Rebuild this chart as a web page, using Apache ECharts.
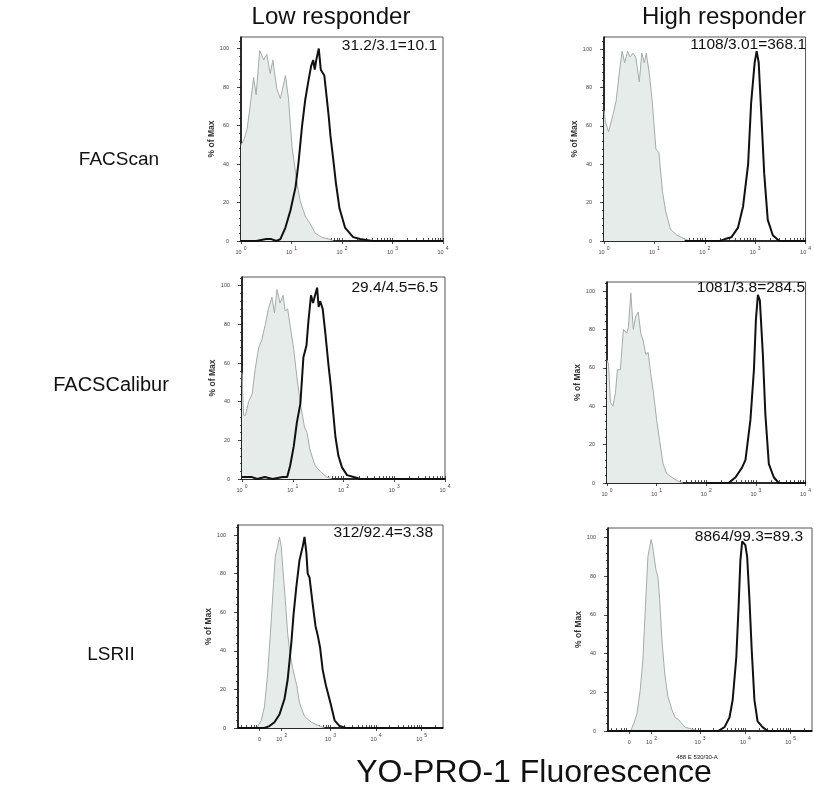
<!DOCTYPE html>
<html><head><meta charset="utf-8">
<script src="https://cdn.jsdelivr.net/npm/echarts@6/dist/echarts.min.js"></script>
<style>html,body{margin:0;padding:0;background:#fff}#c{width:814px;height:791px}</style>
</head><body><div id="c"></div>
<script>
// ---------------- DATA ----------------
const colTitles = ['Low responder', 'High responder'];
const rowLabels = ['FACScan', 'FACSCalibur', 'LSRII'];
const ratioTexts = ['31.2/3.1=10.1', '1108/3.01=368.1', '29.4/4.5=6.5', '1081/3.8=284.5', '312/92.4=3.38', '8864/99.3=89.3'];
const yAxisName = '% of Max';
const xAxisTitle = 'YO-PRO-1 Fluorescence';
const parameterLabel = '488 E 530/30-A';
const yTickLabels = [0, 20, 40, 60, 80, 100];
// top / middle rows: log decade axis (positions in log10 units)
const logTickValues = [0, 1, 2, 3, 4];
const logTickExps = ['0', '1', '2', '3', '4'];
// bottom row: biexponential display axis (positions in display decades)
const biexTickValues = [1.44, 1.93, 3, 4, 5];
const biexTickExps = [null, '2', '3', '4', '5'];
const biexNegTicks = [1.04, 1.16, 1.26, 1.33, 1.38];
const biexLowTicks = [1.58, 1.70, 1.80, 1.87];

// histograms: [x position, % of max]
const grayScanLow = [[0,50],[0.05,52],[0.12,58],[0.18,70],[0.25,85],[0.30,76],[0.37,99],[0.45,94],[0.51,97],[0.58,87],[0.63,94],[0.71,79],[0.78,74],[0.88,86],[0.94,74],[1.01,49],[1.11,30],[1.17,21],[1.27,13],[1.37,9],[1.47,4],[1.60,2],[1.74,1],[1.83,0]];
const blackScanLow = [[0,0],[0.3,0],[0.5,1],[0.6,1],[0.7,0],[0.78,1],[0.88,7],[0.98,16],[1.08,28],[1.14,41],[1.21,60],[1.27,73],[1.34,84],[1.39,91],[1.43,94],[1.46,89],[1.49,94],[1.54,100],[1.58,89],[1.65,86],[1.74,64],[1.77,55],[1.82,44],[1.88,30],[1.95,17],[2.06,7],[2.22,2],[2.36,1],[2.6,0],[4,0]];
const grayScanHigh = [[0,68],[0.03,62],[0.09,57],[0.18,66],[0.24,73],[0.31,89],[0.36,99],[0.41,93],[0.47,99],[0.52,96],[0.57,98],[0.63,96],[0.70,83],[0.75,98],[0.80,93],[0.84,98],[0.90,87],[0.96,72],[1.03,48],[1.09,46],[1.16,26],[1.22,16],[1.32,6],[1.45,3],[1.61,1],[1.71,0]];
const blackScanHigh = [[1.6,0],[2.3,0],[2.40,1],[2.53,2],[2.66,7],[2.76,18],[2.86,40],[2.92,72],[2.99,93],[3.03,99],[3.07,93],[3.12,67],[3.18,35],[3.25,11],[3.35,3],[3.48,0],[4,0]];
const grayCaliburLow = [[0,55],[0.03,33],[0.07,33],[0.13,40],[0.20,44],[0.26,57],[0.33,68],[0.39,72],[0.46,80],[0.52,88],[0.59,94],[0.64,86],[0.69,98],[0.75,91],[0.81,95],[0.85,87],[0.90,88],[0.95,79],[1.02,67],[1.08,53],[1.15,39],[1.23,27],[1.28,24],[1.34,15],[1.44,7],[1.54,4],[1.67,1],[1.77,0]];
const blackCaliburLow = [[0,1],[0.2,1],[0.3,0],[0.45,1],[0.6,0],[0.8,1],[0.89,1],[0.95,7],[1.02,17],[1.08,29],[1.15,39],[1.21,63],[1.27,69],[1.31,82],[1.36,95],[1.40,91],[1.44,95],[1.48,99],[1.51,89],[1.54,92],[1.59,88],[1.64,76],[1.70,60],[1.75,48],[1.84,22],[1.90,12],[1.97,6],[2.07,2],[2.20,1],[2.33,0],[4,0]];
const grayCaliburHigh = [[0,64],[0.03,62],[0.07,42],[0.12,40],[0.17,47],[0.21,59],[0.27,59],[0.33,80],[0.40,78],[0.43,81],[0.48,99],[0.53,80],[0.58,87],[0.63,89],[0.68,78],[0.73,74],[0.78,67],[0.83,68],[0.88,57],[0.93,48],[1.00,33],[1.06,22],[1.13,10],[1.20,5],[1.30,3],[1.43,1],[1.53,0]];
const blackCaliburHigh = [[2.0,0],[2.45,0],[2.49,1],[2.59,3],[2.72,8],[2.79,12],[2.89,33],[2.96,59],[3.00,85],[3.04,98],[3.08,95],[3.14,67],[3.19,36],[3.26,10],[3.36,3],[3.46,0],[4,0]];
const grayLsrLow = [[1.38,0],[1.48,4],[1.55,11],[1.62,28],[1.70,56],[1.75,75],[1.79,89],[1.84,94],[1.88,99],[1.92,94],[1.95,84],[2.01,66],[2.06,49],[2.11,39],[2.17,31],[2.21,30],[2.26,22],[2.32,13],[2.43,6],[2.58,3],[2.76,1],[2.87,0]];
const blackLsrLow = [[0.97,0],[1.55,0],[1.66,1],[1.77,3],[1.88,7],[1.99,15],[2.06,25],[2.14,44],[2.19,59],[2.25,73],[2.32,87],[2.39,94],[2.43,99],[2.47,91],[2.50,80],[2.54,78],[2.60,66],[2.67,53],[2.72,48],[2.77,42],[2.83,30],[2.90,22],[3.00,13],[3.09,4],[3.20,1],[3.34,0],[5.47,0]];
const grayLsrHigh = [[1.47,0],[1.54,4],[1.61,9],[1.68,21],[1.74,37],[1.78,57],[1.82,76],[1.85,90],[1.88,94],[1.92,99],[1.95,96],[1.98,97],[2.03,83],[2.07,80],[2.11,68],[2.16,47],[2.22,30],[2.29,18],[2.38,11],[2.45,7],[2.52,6],[2.67,2],[2.81,1],[2.96,0]];
const blackLsrHigh = [[0.97,0],[3.40,0],[3.54,2],[3.65,7],[3.72,16],[3.80,38],[3.85,64],[3.89,88],[3.93,98],[3.97,99],[4.00,96],[4.04,90],[4.09,68],[4.14,42],[4.20,16],[4.27,5],[4.38,2],[4.49,0],[5.47,0]];

const grayData = [grayScanLow, grayScanHigh, grayCaliburLow, grayCaliburHigh, grayLsrLow, grayLsrHigh];
const blackData = [blackScanLow, blackScanHigh, blackCaliburLow, blackCaliburHigh, blackLsrLow, blackLsrHigh];

// ---------------- LAYOUT ----------------
const layout = [
  {l:241, t:37,  r:443, b:241, yMax:106,   biex:false, tx:437, ty:46},
  {l:604, t:37,  r:808, b:241, yMax:106.4, biex:false, tx:806, ty:45},
  {l:242, t:277, r:445, b:479, yMax:104.5, biex:false, tx:438, ty:288},
  {l:607, t:282, r:807, b:483, yMax:104.7, biex:false, tx:805, ty:288},
  {l:238, t:525, r:443, b:728, yMax:105.2, biex:true,  tx:433, ty:533},
  {l:608, t:528, r:812, b:731, yMax:104.9, biex:true,  tx:803, ty:537}
];
const FONT = '"Liberation Sans", Arial, sans-serif';

// axis tick position helpers
function logMinorTicks() {
  const out = [];
  for (let n = 0; n < 4; n++) for (let k = 1; k <= 9; k++) out.push(n + Math.log10(k));
  out.push(4);
  return out;
}
function biexMinorTicks() {
  const out = biexNegTicks.concat(biexLowTicks);
  for (let k = 1; k <= 9; k++) out.push(1.93 + Math.log10(k) * (3 - 1.93));
  for (let n = 3; n < 5; n++) for (let k = 1; k <= 9; k++) out.push(n + Math.log10(k));
  out.push(5, 5 + Math.log10(2));
  return out;
}
const yMinor = []; for (let v = 0; v <= 104; v += 4) yMinor.push(v);

const grids = [], xAxes = [], yAxes = [], series = [];
layout.forEach((p, i) => {
  grids.push({left:p.l, top:p.t, width:p.r - p.l, height:p.b - p.t, show:true, borderColor:'#555', borderWidth:1, containLabel:false});
  const xMin = p.biex ? 0.97 : 0, xMax = p.biex ? 5.47 : 4;
  const labVals = p.biex ? biexTickValues : logTickValues;
  const labExps = p.biex ? biexTickExps : logTickExps;
  const minor = p.biex ? biexMinorTicks() : logMinorTicks();
  xAxes.push({
    type:'value', gridIndex:i, min:xMin, max:xMax, position:'bottom',
    axisLine:{show:true, onZero:false, lineStyle:{color:'#000', width:1.5}},
    axisTick:{show:true, inside:true, length:3, customValues:minor, lineStyle:{color:'#222', width:0.8}},
    axisLabel:{show:true, customValues:labVals, margin:5, color:'#444',
      formatter:function(v){
        let idx = 0, best = 1e9;
        labVals.forEach((q, j) => { if (Math.abs(q - v) < best) { best = Math.abs(q - v); idx = j; } });
        const e = labExps[idx];
        return e === null ? '{b|0}' : '{b|10}{s|' + e + '}';
      },
      rich:{
        b:{fontSize:5.5, lineHeight:13, color:'#444', fontFamily:FONT},
        s:{fontSize:5, lineHeight:5, verticalAlign:'top', color:'#444', fontFamily:FONT, padding:[0,0,0,2]}
      }},
    splitLine:{show:false}
  });
  xAxes.push({
    type:'value', gridIndex:i, min:xMin, max:xMax, position:'bottom',
    axisLine:{show:false}, axisLabel:{show:false}, splitLine:{show:false},
    axisTick:{show:true, inside:false, length:3, customValues:labVals, lineStyle:{color:'#222', width:0.8}}
  });
  yAxes.push({
    type:'value', gridIndex:i, min:0, max:p.yMax, position:'left',
    axisLine:{show:true, onZero:false, lineStyle:{color:'#000', width:1.5}},
    axisTick:{show:true, inside:false, length:2, customValues:yMinor, lineStyle:{color:'#222', width:0.8}},
    axisLabel:{show:true, customValues:yTickLabels, fontSize:5.5, color:'#444', margin:12, fontFamily:FONT},
    name:yAxisName, nameLocation:'middle', nameGap:22, nameRotate:90,
    nameTextStyle:{fontSize:8.5, fontWeight:'bold', color:'#333', fontFamily:FONT},
    splitLine:{show:false}
  });
  yAxes.push({
    type:'value', gridIndex:i, min:0, max:p.yMax, position:'left',
    axisLine:{show:false}, axisLabel:{show:false}, splitLine:{show:false},
    axisTick:{show:true, inside:false, length:4, customValues:yTickLabels, lineStyle:{color:'#222', width:0.8}}
  });
  series.push({
    type:'line', xAxisIndex:2*i, yAxisIndex:2*i, data:grayData[i], showSymbol:false, symbol:'none',
    lineStyle:{color:'#a3acaa', width:1}, areaStyle:{color:'#e6ecea', opacity:1}, z:2, silent:true
  });
  series.push({
    type:'line', xAxisIndex:2*i, yAxisIndex:2*i, data:blackData[i], showSymbol:false, symbol:'none',
    lineStyle:{color:'#111', width:2}, z:3, silent:true
  });
});

function txt(text, x, y, size, align, extra) {
  return Object.assign({type:'text', z:10, style:{text:text, x:x, y:y, font: size + 'px ' + FONT, fill:'#111',
    align:align, textAlign:align, verticalAlign:'middle', textVerticalAlign:'middle'}}, extra || {});
}
const graphics = [
  txt(colTitles[0], 331, 17, 24, 'center'),
  txt(colTitles[1], 724, 17, 24, 'center'),
  txt(rowLabels[0], 119, 160, 19, 'center'),
  txt(rowLabels[1], 111, 385, 20, 'center'),
  txt(rowLabels[2], 111, 655, 19, 'center'),
  txt(xAxisTitle, 534, 773, 32, 'center'),
  txt(parameterLabel, 697, 757, 6, 'center')
];
layout.forEach((p, i) => graphics.push(txt(ratioTexts[i], p.tx, p.ty, 15.5, 'right')));

const chart = echarts.init(document.getElementById('c'), null, {renderer:'canvas'});
chart.setOption({
  animation:false,
  backgroundColor:'#fff',
  grid:grids, xAxis:xAxes, yAxis:yAxes, series:series,
  graphic:{elements:graphics}
});
</script></body></html>
